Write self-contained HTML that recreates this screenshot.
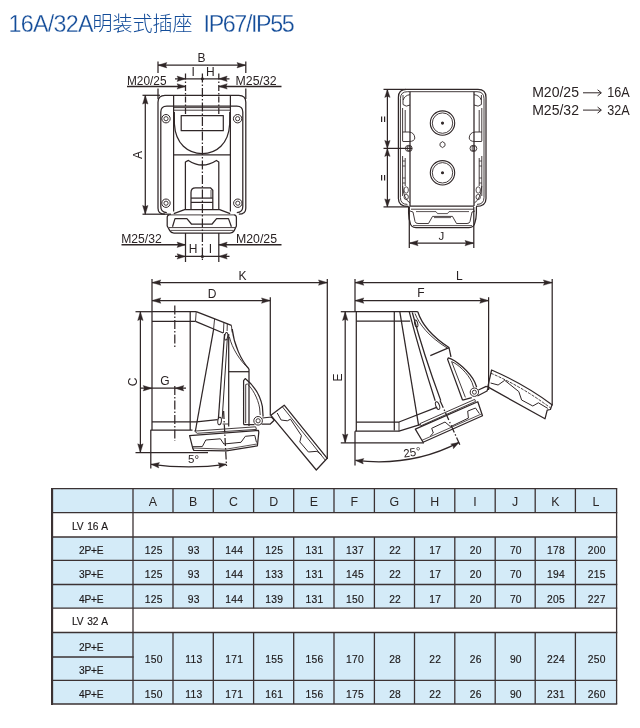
<!DOCTYPE html>
<html><head><meta charset="utf-8">
<title>16A/32A IP67/IP55</title>
<style>
html,body{margin:0;padding:0;background:#fff;}
body{width:640px;height:728px;position:relative;overflow:hidden;font-family:"Liberation Sans",sans-serif;}
#title{will-change:transform;position:absolute;left:0;top:0;width:640px;height:44px;color:#134c99;font-size:23.3px;line-height:1;white-space:nowrap;}
#title span{position:absolute;top:12.7px;-webkit-text-stroke:0.28px #fff;}
#t1{left:8.6px;letter-spacing:-0.75px;}
#t2{left:203.6px;letter-spacing:-1.4px;}
#cj{position:absolute;left:0;top:0;}
#dwg{position:absolute;left:0;top:0;will-change:transform;}
#dwg text{font-family:"Liberation Sans",sans-serif;}
#tbl{position:absolute;left:0;top:0;width:640px;height:728px;will-change:transform;}
.c{position:absolute;text-align:center;color:#1c1819;font-size:10.3px;overflow:hidden;-webkit-text-stroke:0.15px #1c1819;}
.c.n{letter-spacing:0.25px;padding-left:1.4px;box-sizing:border-box;}
.ln{position:absolute;background:#3b3233;}
.c.h{font-size:12.4px;color:#2a2627;-webkit-text-stroke:0;}
.c.l{font-size:10.2px;letter-spacing:-0.2px;padding-right:3px;box-sizing:border-box;}
.c.l.v{word-spacing:1.2px;padding-right:5.5px;}
#tb-left{position:absolute;left:51.3px;top:487.8px;width:1.8px;height:216.8px;background:#3b3233;}
</style></head>
<body>
<div id="title"><span id="t1">16A/32A</span><span id="t2">IP67/IP55</span></div>
<svg id="cj" width="640" height="44" viewBox="0 0 640 44" fill="#134c99">
<text x="92.6" y="31" font-size="20" fill="#134c99" style='font-family:"Liberation Sans","Noto Sans CJK SC",sans-serif;font-weight:300'>明装式插座</text>
</svg>
<svg id="dwg" width="640" height="728" viewBox="0 0 640 728" fill="none" stroke="#2f2627" stroke-linecap="butt" stroke-linejoin="round">
<g id="front">
<line x1="158.0" y1="61.5" x2="158.0" y2="73" stroke-width="1.25"/>
<line x1="158.0" y1="88.5" x2="158.0" y2="99" stroke-width="1.25"/>
<line x1="245.8" y1="61.5" x2="245.8" y2="73" stroke-width="1.25"/>
<line x1="245.8" y1="88.5" x2="245.8" y2="99" stroke-width="1.25"/>
<line x1="158.0" y1="65.2" x2="245.8" y2="65.2" stroke-width="1.25"/>
<polygon points="158.00,65.20 166.80,62.50 165.60,65.20 166.80,67.90" fill="#2f2627" stroke="#2f2627" stroke-width="0.4"/>
<polygon points="245.80,65.20 237.00,67.90 238.20,65.20 237.00,62.50" fill="#2f2627" stroke="#2f2627" stroke-width="0.4"/>
<text x="201.6" y="62.0" font-size="12" text-anchor="middle" fill="#2a2324" stroke="none">B</text>
<line x1="175" y1="78.8" x2="229.5" y2="78.8" stroke-width="1.25"/>
<polygon points="185.50,78.80 177.10,81.50 178.30,78.80 177.10,76.10" fill="#2f2627" stroke="#2f2627" stroke-width="0.4"/>
<polygon points="218.80,78.80 227.20,76.10 226.00,78.80 227.20,81.50" fill="#2f2627" stroke="#2f2627" stroke-width="0.4"/>
<circle cx="202.4" cy="78.8" r="0.9" stroke-width="1.25" fill="#2f2627"/>
<text x="193.2" y="76.3" font-size="12" text-anchor="middle" fill="#2a2324" stroke="none">I</text>
<text x="210.4" y="76.3" font-size="12" text-anchor="middle" fill="#2a2324" stroke="none">H</text>
<line x1="127" y1="86.4" x2="185.5" y2="86.4" stroke-width="1.45"/>
<polygon points="185.50,86.40 177.10,89.10 178.30,86.40 177.10,83.70" fill="#2f2627" stroke="#2f2627" stroke-width="0.4"/>
<line x1="218.8" y1="86.4" x2="281.5" y2="86.4" stroke-width="1.45"/>
<polygon points="218.80,86.40 227.20,83.70 226.00,86.40 227.20,89.10" fill="#2f2627" stroke="#2f2627" stroke-width="0.4"/>
<text x="127" y="85.4" font-size="12" text-anchor="start" fill="#2a2324" stroke="none" textLength="39.5" lengthAdjust="spacingAndGlyphs">M20/25</text>
<text x="235.6" y="85.4" font-size="12" text-anchor="start" fill="#2a2324" stroke="none" textLength="41" lengthAdjust="spacingAndGlyphs">M25/32</text>
<line x1="185.5" y1="73.5" x2="185.5" y2="115.6" stroke-width="1.25" stroke-dasharray="6 2 1.5 2"/>
<line x1="218.8" y1="73.5" x2="218.8" y2="115.6" stroke-width="1.25" stroke-dasharray="6 2 1.5 2"/>
<line x1="202.4" y1="73.5" x2="202.4" y2="262" stroke-width="1.25" stroke-dasharray="9 2 1.5 2"/>
<line x1="142.5" y1="95.3" x2="160.0" y2="95.3" stroke-width="1.25"/>
<line x1="142.5" y1="214.2" x2="171" y2="214.2" stroke-width="1.25"/>
<line x1="145.3" y1="95.3" x2="145.3" y2="214.2" stroke-width="1.25"/>
<polygon points="145.30,95.30 148.00,104.10 145.30,102.90 142.60,104.10" fill="#2f2627" stroke="#2f2627" stroke-width="0.4"/>
<polygon points="145.30,214.20 142.60,205.40 145.30,206.60 148.00,205.40" fill="#2f2627" stroke="#2f2627" stroke-width="0.4"/>
<text x="141.6" y="155" font-size="12" text-anchor="middle" fill="#2a2324" stroke="none" transform="rotate(-90 141.6 155)">A</text>
<path d="M158.0,208.2 L158.0,102.3 Q158.0,95.3 165.0,95.3 L238.8,95.3 Q245.8,95.3 245.8,102.3 L245.8,208.2 Q245.8,214.2 238.8,214.2 M158.0,208.2 Q158.0,214.2 165.0,214.2" stroke-width="1.25" fill="none"/>
<path d="M166.8,212.6 Q160.8,212.6 160.8,206.6 L160.8,112.0 Q160.8,106.0 166.8,106.0 L236.8,106.0 Q242.8,106.0 242.8,112.0 L242.8,206.6 Q242.8,212.6 236.8,212.6" stroke-width="1.25" fill="none"/>
<line x1="173.6" y1="95.3" x2="173.6" y2="211.5" stroke-width="1.25"/>
<line x1="230.4" y1="95.3" x2="230.4" y2="211.5" stroke-width="1.25"/>
<line x1="173.6" y1="107.6" x2="230.4" y2="107.6" stroke-width="0.9"/>
<line x1="173.6" y1="110.2" x2="230.4" y2="110.2" stroke-width="0.9"/>
<path d="M174.3,112 L174.4,124 C175.5,144 188,153.5 202.3,153.5 C216.5,153.5 228.6,144 229.7,124 L229.8,112" stroke-width="1.25" fill="none"/>
<line x1="173.6" y1="154.9" x2="230.4" y2="154.9" stroke-width="1.25"/>
<rect x="181.2" y="115.6" width="42.1" height="15.1" stroke-width="1.2"/>
<circle cx="166.0" cy="118.7" r="4.2" stroke-width="1.0" fill="none"/>
<circle cx="166.0" cy="118.7" r="2.1" stroke-width="0.9" fill="none"/>
<circle cx="237.6" cy="118.7" r="4.2" stroke-width="1.0" fill="none"/>
<circle cx="237.6" cy="118.7" r="2.1" stroke-width="0.9" fill="none"/>
<circle cx="166.0" cy="203.2" r="4.2" stroke-width="1.0" fill="none"/>
<circle cx="166.0" cy="203.2" r="2.1" stroke-width="0.9" fill="none"/>
<circle cx="237.8" cy="203.2" r="4.2" stroke-width="1.0" fill="none"/>
<circle cx="237.8" cy="203.2" r="2.1" stroke-width="0.9" fill="none"/>
<path d="M185.4,210 L185.4,162 L188.4,160.4 Q202.3,169.6 216.4,160.4 L218.8,162 L218.8,210" stroke-width="1.25" fill="none"/>
<path d="M191,209 L191,192.5 Q191,187.8 195.5,187.8 L210.4,187.8 L212.8,190.2 L212.8,209" stroke-width="1.25" fill="none"/>
<line x1="211" y1="190" x2="211" y2="198" stroke-width="0.8"/>
<line x1="191" y1="198.1" x2="212.8" y2="198.1" stroke-width="1.25"/>
<line x1="191" y1="202.4" x2="212.8" y2="202.4" stroke-width="1.25"/>
<path d="M173.8,213.6 L184.6,209.6 L219.6,209.6 L230.2,213.6" stroke-width="1.25" fill="none"/>
<path d="M169.5,214.8 Q167.2,215 167.2,217.5 L167.2,226 L169.8,230.6 Q171,233 174,233 L230,233 Q233,233 234.2,230.6 L236.4,226 L236.4,217.5 Q236.4,215 234,214.8" stroke-width="1.25" fill="none"/>
<line x1="169.5" y1="214.9" x2="234" y2="214.9" stroke-width="0.9"/>
<path d="M172.5,226.7 L175,218.6 L186.9,218.6 L191.4,224 L212.1,224 L216.6,218.6 L228.5,218.6 L231.4,226.7" stroke-width="1.25" fill="none"/>
<line x1="169" y1="227.6" x2="235" y2="227.6" stroke-width="0.9"/>
<line x1="170.5" y1="230.4" x2="233.5" y2="230.4" stroke-width="0.8"/>
<line x1="185.5" y1="233" x2="185.5" y2="262" stroke-width="1.25"/>
<line x1="218.8" y1="233" x2="218.8" y2="262" stroke-width="1.25"/>
<line x1="121.5" y1="244.8" x2="185.5" y2="244.8" stroke-width="1.45"/>
<polygon points="185.50,244.80 177.10,247.50 178.30,244.80 177.10,242.10" fill="#2f2627" stroke="#2f2627" stroke-width="0.4"/>
<line x1="218.8" y1="244.8" x2="281.5" y2="244.8" stroke-width="1.45"/>
<polygon points="218.80,244.80 227.20,242.10 226.00,244.80 227.20,247.50" fill="#2f2627" stroke="#2f2627" stroke-width="0.4"/>
<text x="121.2" y="243.2" font-size="12" text-anchor="start" fill="#2a2324" stroke="none" textLength="40.5" lengthAdjust="spacingAndGlyphs">M25/32</text>
<text x="236" y="243.2" font-size="12" text-anchor="start" fill="#2a2324" stroke="none" textLength="41" lengthAdjust="spacingAndGlyphs">M20/25</text>
<line x1="175" y1="256.4" x2="229.5" y2="256.4" stroke-width="1.25"/>
<polygon points="185.50,256.40 177.10,259.10 178.30,256.40 177.10,253.70" fill="#2f2627" stroke="#2f2627" stroke-width="0.4"/>
<polygon points="218.80,256.40 227.20,253.70 226.00,256.40 227.20,259.10" fill="#2f2627" stroke="#2f2627" stroke-width="0.4"/>
<circle cx="202.4" cy="256.4" r="0.9" stroke-width="1.25" fill="#2f2627"/>
<text x="193" y="253.4" font-size="12" text-anchor="middle" fill="#2a2324" stroke="none">H</text>
<text x="210.3" y="253.4" font-size="12" text-anchor="middle" fill="#2a2324" stroke="none">I</text>
</g>
<g id="rear">
<line x1="383.5" y1="89.4" x2="406" y2="89.4" stroke-width="1.25"/>
<line x1="383.5" y1="148.4" x2="412" y2="148.4" stroke-width="1.25"/>
<line x1="383.5" y1="206.9" x2="410" y2="206.9" stroke-width="1.25"/>
<line x1="387.4" y1="89.4" x2="387.4" y2="206.9" stroke-width="1.25"/>
<polygon points="387.40,89.40 390.10,97.40 387.40,96.20 384.70,97.40" fill="#2f2627" stroke="#2f2627" stroke-width="0.4"/>
<polygon points="387.40,148.40 384.70,140.40 387.40,141.60 390.10,140.40" fill="#2f2627" stroke="#2f2627" stroke-width="0.4"/>
<polygon points="387.40,148.40 390.10,156.40 387.40,155.20 384.70,156.40" fill="#2f2627" stroke="#2f2627" stroke-width="0.4"/>
<polygon points="387.40,206.90 384.70,198.90 387.40,200.10 390.10,198.90" fill="#2f2627" stroke="#2f2627" stroke-width="0.4"/>
<text x="386.8" y="119.4" font-size="11" text-anchor="middle" fill="#2a2324" stroke="none" transform="rotate(-90 386.8 119.4)" font-weight="bold">=</text>
<text x="386.8" y="177.8" font-size="11" text-anchor="middle" fill="#2a2324" stroke="none" transform="rotate(-90 386.8 177.8)" font-weight="bold">=</text>
<path d="M398.4,198.4 L398.4,97.4 Q398.4,89.4 406.4,89.4 L478.0,89.4 Q486.0,89.4 486.0,97.4 L486.0,198.4 Q486.0,206.4 476.0,206.4 M398.4,198.4 Q398.4,206.4 408.4,206.4" stroke-width="1.25" fill="none"/>
<path d="M400.4,197.4 L400.4,98.7 Q400.4,91.7 407.4,91.7 L477.0,91.7 Q484.0,91.7 484.0,98.7 L484.0,197.4 Q484.0,204.4 477.0,204.4 M400.4,197.4 Q400.4,204.4 407.4,204.4" stroke-width="0.9" fill="none"/>
<line x1="410.0" y1="91.7" x2="410.0" y2="206" stroke-width="1.25"/>
<line x1="474.0" y1="91.7" x2="474.0" y2="206" stroke-width="1.25"/>
<line x1="410.0" y1="206.2" x2="474.0" y2="206.2" stroke-width="1.25"/>
<path d="M403,95 L403,104.5 Q406,107.5 410,105 M403.2,100 Q404.5,95.5 410,94.6" stroke-width="0.9" fill="none"/>
<path d="M481.4,95 L481.4,104.5 Q478.4,107.5 474,105 M481.2,100 Q479.9,95.5 474,94.6" stroke-width="0.9" fill="none"/>
<line x1="402.6" y1="108" x2="402.6" y2="141" stroke-width="0.9"/>
<line x1="405.2" y1="110" x2="405.2" y2="132" stroke-width="0.9"/>
<line x1="402.6" y1="156" x2="402.6" y2="196" stroke-width="0.9"/>
<line x1="405.2" y1="158" x2="405.2" y2="186" stroke-width="0.9"/>
<line x1="402.6" y1="161" x2="405.2" y2="161" stroke-width="0.8"/>
<line x1="402.6" y1="166" x2="405.2" y2="166" stroke-width="0.8"/>
<line x1="402.6" y1="178" x2="405.2" y2="178" stroke-width="0.8"/>
<line x1="402.6" y1="183" x2="405.2" y2="183" stroke-width="0.8"/>
<line x1="481.8" y1="108" x2="481.8" y2="141" stroke-width="0.9"/>
<line x1="479.2" y1="110" x2="479.2" y2="132" stroke-width="0.9"/>
<line x1="481.8" y1="156" x2="481.8" y2="196" stroke-width="0.9"/>
<line x1="479.2" y1="158" x2="479.2" y2="186" stroke-width="0.9"/>
<line x1="481.8" y1="161" x2="479.2" y2="161" stroke-width="0.8"/>
<line x1="481.8" y1="166" x2="479.2" y2="166" stroke-width="0.8"/>
<line x1="481.8" y1="178" x2="479.2" y2="178" stroke-width="0.8"/>
<line x1="481.8" y1="183" x2="479.2" y2="183" stroke-width="0.8"/>
<path d="M402.6,132 L409,132 Q414.5,132.5 414.8,138 Q414.5,141.5 409,141.5 L402.6,141.5" stroke-width="0.9" fill="none"/>
<path d="M481.8,132 L475,132 Q469.5,132.5 469.2,138 Q469.5,141.5 475,141.5 L481.8,141.5" stroke-width="0.9" fill="none"/>
<ellipse cx="408.8" cy="148.4" rx="3.4" ry="3.1" stroke-width="0.9"/>
<rect x="407.6" y="146.2" width="2.4" height="4.4" stroke-width="0.8"/>
<ellipse cx="473.4" cy="148.4" rx="3.4" ry="3.1" stroke-width="0.9"/>
<rect x="472.2" y="146.2" width="2.4" height="4.4" stroke-width="0.8"/>
<path d="M402.6,186 Q403.6,199 410.0,203" stroke-width="0.9" fill="none"/>
<ellipse cx="406.20000000000005" cy="190" rx="2.2" ry="3.2" stroke-width="0.8"/>
<ellipse cx="406.20000000000005" cy="197" rx="2.2" ry="2.6" stroke-width="0.8"/>
<path d="M481.8,186 Q480.8,199 474.40000000000003,203" stroke-width="0.9" fill="none"/>
<ellipse cx="478.2" cy="190" rx="2.2" ry="3.2" stroke-width="0.8"/>
<ellipse cx="478.2" cy="197" rx="2.2" ry="2.6" stroke-width="0.8"/>
<circle cx="442.5" cy="123.1" r="12.2" stroke-width="1.1" fill="none"/>
<circle cx="442.5" cy="123.1" r="10.2" stroke-width="0.9" fill="none"/>
<circle cx="442.5" cy="123.1" r="0.9" stroke-width="1.25" fill="#2f2627"/>
<circle cx="442.5" cy="172.8" r="12.2" stroke-width="1.1" fill="none"/>
<circle cx="442.5" cy="172.8" r="10.2" stroke-width="0.9" fill="none"/>
<circle cx="442.5" cy="172.8" r="0.9" stroke-width="1.25" fill="#2f2627"/>
<path d="M442.5,141.6 L445,143.4 L445,145.8 L442.5,147.6 L440,145.8 L440,143.4 Z" stroke-width="0.9"/>
<path d="M408.6,207 L408.6,213 Q408.8,219 410.2,223 Q411,227.6 416,227.6 L469,227.6 Q474,227.6 474.8,223 Q476.2,219 476.4,213 L476.4,207" stroke-width="1.25" fill="none"/>
<path d="M410,211 L413,212 L415,221.5 Q415.5,223.5 418,223.5 L428.5,223.5 L432.5,216.4 L452.5,216.4 L456.5,223.5 L467,223.5 Q469.5,223.5 470,221.5 L472,212 L475,211" stroke-width="0.9" fill="none"/>
<line x1="411" y1="209.2" x2="474" y2="209.2" stroke-width="0.9"/>
<path d="M416,211.6 L436,211.6 L437.5,213.6 L447.5,213.6 L449,211.6 L469,211.6" stroke-width="0.8" fill="none"/>
<line x1="434" y1="217.6" x2="451" y2="217.6" stroke-width="0.8"/>
<line x1="413" y1="225.6" x2="472" y2="225.6" stroke-width="0.8"/>
<line x1="409.3" y1="207" x2="409.3" y2="248" stroke-width="1.25"/>
<line x1="473.8" y1="207" x2="473.8" y2="248" stroke-width="1.25"/>
<line x1="409.3" y1="243.1" x2="473.8" y2="243.1" stroke-width="1.25"/>
<polygon points="409.30,243.10 418.10,240.40 416.90,243.10 418.10,245.80" fill="#2f2627" stroke="#2f2627" stroke-width="0.4"/>
<polygon points="473.80,243.10 465.00,245.80 466.20,243.10 465.00,240.40" fill="#2f2627" stroke="#2f2627" stroke-width="0.4"/>
<text x="441.4" y="240" font-size="11.5" text-anchor="middle" fill="#2a2324" stroke="none">J</text>
<text x="532.2" y="97.3" font-size="13.8" text-anchor="start" fill="#2a2324" stroke="none" textLength="46.8" lengthAdjust="spacingAndGlyphs">M20/25</text>
<text x="532.2" y="114.6" font-size="13.8" text-anchor="start" fill="#2a2324" stroke="none" textLength="46.8" lengthAdjust="spacingAndGlyphs">M25/32</text>
<line x1="583" y1="92.8" x2="601" y2="92.8" stroke-width="1.0"/>
<path d="M597.6,89.8 L601.4,92.8 L597.6,95.8" stroke-width="1.0" fill="none"/>
<line x1="583" y1="110.1" x2="601" y2="110.1" stroke-width="1.0"/>
<path d="M597.6,107.1 L601.4,110.1 L597.6,113.1" stroke-width="1.0" fill="none"/>
<text x="607.2" y="97.3" font-size="13.8" text-anchor="start" fill="#2a2324" stroke="none" textLength="22.5" lengthAdjust="spacingAndGlyphs">16A</text>
<text x="607.2" y="114.6" font-size="13.8" text-anchor="start" fill="#2a2324" stroke="none" textLength="22.5" lengthAdjust="spacingAndGlyphs">32A</text>
</g>
<g id="side1">
<line x1="152" y1="279" x2="152" y2="311.7" stroke-width="1.25"/>
<line x1="152" y1="282.6" x2="327.3" y2="282.6" stroke-width="1.25"/>
<polygon points="152.00,282.60 160.80,279.90 159.60,282.60 160.80,285.30" fill="#2f2627" stroke="#2f2627" stroke-width="0.4"/>
<polygon points="327.30,282.60 318.50,285.30 319.70,282.60 318.50,279.90" fill="#2f2627" stroke="#2f2627" stroke-width="0.4"/>
<line x1="327.3" y1="279" x2="327.3" y2="459" stroke-width="1.25"/>
<text x="242.6" y="279.6" font-size="12" text-anchor="middle" fill="#2a2324" stroke="none">K</text>
<line x1="152" y1="300.6" x2="270.3" y2="300.6" stroke-width="1.25"/>
<polygon points="152.00,300.60 160.80,297.90 159.60,300.60 160.80,303.30" fill="#2f2627" stroke="#2f2627" stroke-width="0.4"/>
<polygon points="270.30,300.60 261.50,303.30 262.70,300.60 261.50,297.90" fill="#2f2627" stroke="#2f2627" stroke-width="0.4"/>
<line x1="270.3" y1="297.2" x2="270.3" y2="415.5" stroke-width="1.25"/>
<text x="212" y="297.6" font-size="12" text-anchor="middle" fill="#2a2324" stroke="none">D</text>
<line x1="135.5" y1="311.7" x2="152" y2="311.7" stroke-width="1.25"/>
<line x1="135.5" y1="452.6" x2="208" y2="452.6" stroke-width="1.25"/>
<line x1="140.4" y1="311.7" x2="140.4" y2="452.6" stroke-width="1.25"/>
<polygon points="140.40,311.70 143.10,320.50 140.40,319.30 137.70,320.50" fill="#2f2627" stroke="#2f2627" stroke-width="0.4"/>
<polygon points="140.40,452.60 137.70,443.80 140.40,445.00 143.10,443.80" fill="#2f2627" stroke="#2f2627" stroke-width="0.4"/>
<text x="137.2" y="382" font-size="12" text-anchor="middle" fill="#2a2324" stroke="none" transform="rotate(-90 137.2 382)">C</text>
<line x1="141" y1="388.2" x2="186" y2="388.2" stroke-width="1.25"/>
<polygon points="152.00,388.20 143.20,390.90 144.40,388.20 143.20,385.50" fill="#2f2627" stroke="#2f2627" stroke-width="0.4"/>
<polygon points="175.00,388.20 183.80,385.50 182.60,388.20 183.80,390.90" fill="#2f2627" stroke="#2f2627" stroke-width="0.4"/>
<text x="165" y="385.3" font-size="12" text-anchor="middle" fill="#2a2324" stroke="none">G</text>
<line x1="174.8" y1="305.5" x2="174.8" y2="348.5" stroke-width="1.25" stroke-dasharray="9 2 1.5 2"/>
<line x1="174.8" y1="386" x2="174.8" y2="441" stroke-width="1.25" stroke-dasharray="9 2 1.5 2"/>
<line x1="152" y1="311.7" x2="196.2" y2="311.7" stroke-width="1.25"/>
<line x1="152" y1="321.3" x2="195.5" y2="321.3" stroke-width="1.25"/>
<line x1="196.2" y1="311.7" x2="195.5" y2="321.3" stroke-width="0.9"/>
<line x1="152" y1="311.7" x2="152" y2="430" stroke-width="1.25"/>
<line x1="190.2" y1="311.7" x2="190.2" y2="430" stroke-width="1.25"/>
<path d="M152,421.8 L196.5,421.8 L217.7,419.6" stroke-width="1.25" fill="none"/>
<path d="M192.5,430 L150.8,430 L150.8,468.5" stroke-width="1.25" fill="none"/>
<line x1="196.2" y1="311.7" x2="231.4" y2="325.3" stroke-width="1.25"/>
<line x1="195.5" y1="321.3" x2="223.2" y2="333" stroke-width="1.25"/>
<line x1="214.6" y1="318.8" x2="213.6" y2="328.8" stroke-width="0.9"/>
<line x1="223.9" y1="322.5" x2="223.4" y2="333" stroke-width="0.9"/>
<path d="M227.3,323.8 L227.1,331 M231.4,325.3 L232.2,332.5" stroke-width="0.9" fill="none"/>
<line x1="213.7" y1="328.8" x2="195.4" y2="431" stroke-width="1.25"/>
<line x1="224.5" y1="334" x2="218.4" y2="418.7" stroke-width="1.25"/>
<line x1="227.3" y1="338.6" x2="222.2" y2="418.7" stroke-width="1.0"/>
<line x1="228.7" y1="334" x2="228.7" y2="426.5" stroke-width="1.25"/>
<ellipse cx="226.2" cy="336.2" rx="1.5" ry="3.8" transform="rotate(8 226.2 336.2)" stroke-width="1.0"/>
<path d="M232.2,329 C234,345 241,360 249,369" stroke-width="1.25" fill="none"/>
<path d="M229.4,337 C232,348 240,361 249,369" stroke-width="0.9" fill="none"/>
<line x1="249" y1="369" x2="249" y2="426" stroke-width="1.25"/>
<line x1="228.7" y1="371.7" x2="249" y2="371.7" stroke-width="1.25"/>
<path d="M243.6,424.6 L243.6,380.6 L245.2,378.6 C252,384 260,394 262.4,406.7 L263.1,416.6" stroke-width="1.25" fill="none"/>
<path d="M245.7,423 L245.7,384.5 L247.4,384 C252,388 258,398 259.6,408 L260.2,415" stroke-width="0.9" fill="none"/>
<circle cx="258.1" cy="420.8" r="4.3" stroke-width="1.0" fill="none"/>
<circle cx="258.1" cy="420.8" r="2.1" stroke-width="0.9" fill="none"/>
<path d="M243.6,424.6 L254.5,424.6 M262.4,418 L271.5,417 M261.5,424 L270.3,424 L274.2,420.2 L271.5,417" stroke-width="1.25" fill="none"/>
<ellipse cx="219.6" cy="421" rx="1.8" ry="3.8" transform="rotate(5 219.6 421)" stroke-width="1.0"/>
<line x1="222.6" y1="424" x2="228.7" y2="424" stroke-width="0.9"/>
<path d="M194.6,431.1 L255.6,426.8 L256.5,429.4 L197.2,433.3 Z" stroke-width="0.9" fill="none"/>
<path d="M189.6,435.6 L258.4,430.4 L258.8,432.2 L257.4,445.8 L226.4,450.9 L193.8,450.4 L192.8,448.4 Z" stroke-width="1.25" fill="none"/>
<path d="M192.9,446.7 L202.3,446.6 L205.8,440 L220.4,438.8 L223.8,444 L241,442.3 L245.3,436.3 L254.8,435.4 L256.5,442.5" stroke-width="1.0" fill="none"/>
<path d="M192.6,448 L226,449.2 L257,444" stroke-width="0.8" fill="none"/>
<line x1="223.6" y1="411" x2="226.5" y2="466" stroke-width="1.25" stroke-dasharray="8 2 1.5 2"/>
<path d="M151,464.3 Q189,469.5 226.4,464.3" stroke-width="1.25" fill="none"/>
<polygon points="151.20,464.30 159.47,462.60 157.95,465.13 158.81,467.95" fill="#2f2627" stroke="#2f2627" stroke-width="0.4"/>
<polygon points="226.40,464.30 218.85,468.09 219.67,465.25 218.10,462.74" fill="#2f2627" stroke="#2f2627" stroke-width="0.4"/>
<text x="193.6" y="462.6" font-size="11.5" text-anchor="middle" fill="#2a2324" stroke="none">5&#176;</text>
<path d="M270.9,415.3 L284.2,405.2 L327.2,458.3 L316.3,470 Z" stroke-width="1.25" fill="none"/>
<line x1="282.4" y1="406.8" x2="325.3" y2="460.2" stroke-width="0.9"/>
<path d="M277.2,413 L281.1,420 L287.3,420.8 L290.5,419.2 L301.4,435.6 L299.8,441.9 L308.4,452 L317,451.3 L321.7,455.2" stroke-width="1.0" fill="none"/>
</g>
<g id="side2">
<line x1="355" y1="279" x2="355" y2="311.7" stroke-width="1.25"/>
<line x1="355" y1="282.6" x2="552.2" y2="282.6" stroke-width="1.25"/>
<polygon points="355.00,282.60 363.80,279.90 362.60,282.60 363.80,285.30" fill="#2f2627" stroke="#2f2627" stroke-width="0.4"/>
<polygon points="552.20,282.60 543.40,285.30 544.60,282.60 543.40,279.90" fill="#2f2627" stroke="#2f2627" stroke-width="0.4"/>
<line x1="552.2" y1="279" x2="552.2" y2="405.6" stroke-width="1.25"/>
<text x="459.4" y="279.6" font-size="12" text-anchor="middle" fill="#2a2324" stroke="none">L</text>
<line x1="355" y1="300.6" x2="488.6" y2="300.6" stroke-width="1.25"/>
<polygon points="355.00,300.60 363.80,297.90 362.60,300.60 363.80,303.30" fill="#2f2627" stroke="#2f2627" stroke-width="0.4"/>
<polygon points="488.60,300.60 479.80,303.30 481.00,300.60 479.80,297.90" fill="#2f2627" stroke="#2f2627" stroke-width="0.4"/>
<line x1="488.6" y1="297.2" x2="488.6" y2="390" stroke-width="1.25"/>
<text x="420.8" y="297.4" font-size="12" text-anchor="middle" fill="#2a2324" stroke="none">F</text>
<line x1="340.8" y1="311.7" x2="355" y2="311.7" stroke-width="1.25"/>
<line x1="340.8" y1="442.8" x2="424" y2="442.8" stroke-width="1.25"/>
<line x1="345.2" y1="311.7" x2="345.2" y2="442.8" stroke-width="1.25"/>
<polygon points="345.20,311.70 347.90,320.50 345.20,319.30 342.50,320.50" fill="#2f2627" stroke="#2f2627" stroke-width="0.4"/>
<polygon points="345.20,442.80 342.50,434.00 345.20,435.20 347.90,434.00" fill="#2f2627" stroke="#2f2627" stroke-width="0.4"/>
<text x="342" y="377.5" font-size="12" text-anchor="middle" fill="#2a2324" stroke="none" transform="rotate(-90 342 377.5)">E</text>
<line x1="355" y1="311.7" x2="417.8" y2="311.7" stroke-width="1.25"/>
<line x1="356.3" y1="321.2" x2="410.2" y2="321.2" stroke-width="1.25"/>
<line x1="356.3" y1="311.7" x2="356.3" y2="431.2" stroke-width="1.25"/>
<line x1="394.3" y1="311.7" x2="394.3" y2="430.5" stroke-width="1.25"/>
<path d="M356.3,422 L399,422 L437.2,407.2" stroke-width="1.25" fill="none"/>
<path d="M355,431.2 L399,431.2 L420,424.6" stroke-width="1.25" fill="none"/>
<line x1="399" y1="422" x2="399" y2="431.2" stroke-width="0.9"/>
<line x1="355" y1="431.2" x2="355" y2="465.5" stroke-width="1.25"/>
<line x1="399.8" y1="311.7" x2="418.6" y2="425.4" stroke-width="1.25"/>
<path d="M409.2,311.7 Q419.5,352 435.2,400.8" stroke-width="1.25" fill="none"/>
<path d="M412.3,312.5 Q423.5,354 440.8,400.6" stroke-width="1.25" fill="none"/>
<ellipse cx="416.2" cy="323.6" rx="1.5" ry="3.6" transform="rotate(-14 416.2 323.6)" stroke-width="1.0"/>
<ellipse cx="437.6" cy="405.6" rx="1.8" ry="4" transform="rotate(-20 437.6 405.6)" stroke-width="1.0"/>
<path d="M417.8,311.7 C421,322 430,335 449,347.6" stroke-width="1.25" fill="none"/>
<path d="M415,313.5 C419,324 429,337 447.5,348.2" stroke-width="0.9" fill="none"/>
<path d="M430.3,355.6 L449,347.6 L451,357" stroke-width="1.25" fill="none"/>
<path d="M462.6,400.2 L447.6,359.4 L448.4,357.8 C456,360 470,372 474.8,382.2 L476.7,387.2" stroke-width="1.25" fill="none"/>
<path d="M465.4,397.4 L451.6,361.6 C458,364 468,373.5 472,382.4 L473.6,387.4" stroke-width="0.9" fill="none"/>
<circle cx="474.4" cy="392.2" r="4.2" stroke-width="1.0" fill="none"/>
<circle cx="474.4" cy="392.2" r="2.0" stroke-width="0.9" fill="none"/>
<path d="M462.6,400.2 L471.8,397.6 M478.4,390 L486.2,386.4 M477.4,396 L487,391 L488.4,387 L486.2,386.4" stroke-width="1.25" fill="none"/>
<path d="M420,423.6 L474.7,399.4 L475.6,401.4 L420.9,425.8 Z" stroke-width="0.9" fill="none"/>
<path d="M415.3,429.1 L477.8,401.7 L482.5,415.8 L423.1,442.3 Z" stroke-width="1.25" fill="none"/>
<path d="M430.2,436.1 L433.3,433 L431.7,428.3 L445,422 L450.5,426.7 L468.4,418.1 L467.7,411.1 L475.5,408 L479.4,413.6" stroke-width="1.0" fill="none"/>
<path d="M421.8,440.4 L481.8,413.8" stroke-width="0.8" fill="none"/>
<line x1="440" y1="400.5" x2="460.4" y2="446" stroke-width="1.25" stroke-dasharray="8 2 1.5 2"/>
<path d="M355.5,460.4 Q412,467 459,442.4" stroke-width="1.25" fill="none"/>
<polygon points="355.60,460.40 363.84,458.55 362.36,461.11 363.27,463.92" fill="#2f2627" stroke="#2f2627" stroke-width="0.4"/>
<polygon points="459.00,442.40 453.42,448.74 453.11,445.80 450.72,444.06" fill="#2f2627" stroke="#2f2627" stroke-width="0.4"/>
<text x="412.6" y="456.2" font-size="11.5" text-anchor="middle" fill="#2a2324" stroke="none" transform="rotate(-8 412.6 456.2)">25&#176;</text>
<path d="M491.6,370 Q524,384 552,404.7 L550.4,409.5 L547.2,410.2 L545,418.8 L487.8,386.9 Z" stroke-width="1.25" fill="none"/>
<path d="M490.9,373.2 Q522,386.5 550.6,408" stroke-width="0.9" fill="none" stroke-dasharray="3 1.2"/>
<path d="M490.6,383 L498.1,385 L504.7,380.3 L518.8,391.6 L521.6,400 L532.8,406 L538.4,402.8 L547.8,408.4" stroke-width="1.0" fill="none"/>
</g>
</svg>
<div id="tbl">
<div class="c n" style="left:52.5px;top:488.6px;width:80.5px;height:24.0px;line-height:29.4px;background:#d4ebf8"></div>
<div class="c h" style="left:133.0px;top:488.6px;width:40.0px;height:24.0px;line-height:27.2px;background:#d4ebf8">A</div>
<div class="c h" style="left:173.0px;top:488.6px;width:40.3px;height:24.0px;line-height:27.2px;background:#d4ebf8">B</div>
<div class="c h" style="left:213.3px;top:488.6px;width:40.3px;height:24.0px;line-height:27.2px;background:#d4ebf8">C</div>
<div class="c h" style="left:253.6px;top:488.6px;width:40.1px;height:24.0px;line-height:27.2px;background:#d4ebf8">D</div>
<div class="c h" style="left:293.7px;top:488.6px;width:40.3px;height:24.0px;line-height:27.2px;background:#d4ebf8">E</div>
<div class="c h" style="left:334.0px;top:488.6px;width:40.4px;height:24.0px;line-height:27.2px;background:#d4ebf8">F</div>
<div class="c h" style="left:374.4px;top:488.6px;width:40.1px;height:24.0px;line-height:27.2px;background:#d4ebf8">G</div>
<div class="c h" style="left:414.5px;top:488.6px;width:40.3px;height:24.0px;line-height:27.2px;background:#d4ebf8">H</div>
<div class="c h" style="left:454.8px;top:488.6px;width:40.4px;height:24.0px;line-height:27.2px;background:#d4ebf8">I</div>
<div class="c h" style="left:495.2px;top:488.6px;width:40.0px;height:24.0px;line-height:27.2px;background:#d4ebf8">J</div>
<div class="c h" style="left:535.2px;top:488.6px;width:40.2px;height:24.0px;line-height:27.2px;background:#d4ebf8">K</div>
<div class="c h" style="left:575.4px;top:488.6px;width:41.2px;height:24.0px;line-height:27.2px;background:#d4ebf8">L</div>
<div class="c l v" style="left:52.5px;top:512.6px;width:80.5px;height:24.4px;line-height:28.2px;background:#fff">LV 16 A</div>
<div class="c n" style="left:133.0px;top:512.6px;width:483.6px;height:24.4px;line-height:29.8px;background:#fff"></div>
<div class="c l" style="left:52.5px;top:537.0px;width:80.5px;height:23.4px;line-height:28.8px;background:#d4ebf8">2P+E</div>
<div class="c n" style="left:133.0px;top:537.0px;width:40.0px;height:23.4px;line-height:28.8px;background:#d4ebf8">125</div>
<div class="c n" style="left:173.0px;top:537.0px;width:40.3px;height:23.4px;line-height:28.8px;background:#d4ebf8">93</div>
<div class="c n" style="left:213.3px;top:537.0px;width:40.3px;height:23.4px;line-height:28.8px;background:#d4ebf8">144</div>
<div class="c n" style="left:253.6px;top:537.0px;width:40.1px;height:23.4px;line-height:28.8px;background:#d4ebf8">125</div>
<div class="c n" style="left:293.7px;top:537.0px;width:40.3px;height:23.4px;line-height:28.8px;background:#d4ebf8">131</div>
<div class="c n" style="left:334.0px;top:537.0px;width:40.4px;height:23.4px;line-height:28.8px;background:#d4ebf8">137</div>
<div class="c n" style="left:374.4px;top:537.0px;width:40.1px;height:23.4px;line-height:28.8px;background:#d4ebf8">22</div>
<div class="c n" style="left:414.5px;top:537.0px;width:40.3px;height:23.4px;line-height:28.8px;background:#d4ebf8">17</div>
<div class="c n" style="left:454.8px;top:537.0px;width:40.4px;height:23.4px;line-height:28.8px;background:#d4ebf8">20</div>
<div class="c n" style="left:495.2px;top:537.0px;width:40.0px;height:23.4px;line-height:28.8px;background:#d4ebf8">70</div>
<div class="c n" style="left:535.2px;top:537.0px;width:40.2px;height:23.4px;line-height:28.8px;background:#d4ebf8">178</div>
<div class="c n" style="left:575.4px;top:537.0px;width:41.2px;height:23.4px;line-height:28.8px;background:#d4ebf8">200</div>
<div class="c l" style="left:52.5px;top:560.4px;width:80.5px;height:24.1px;line-height:29.5px;background:#d4ebf8">3P+E</div>
<div class="c n" style="left:133.0px;top:560.4px;width:40.0px;height:24.1px;line-height:29.5px;background:#d4ebf8">125</div>
<div class="c n" style="left:173.0px;top:560.4px;width:40.3px;height:24.1px;line-height:29.5px;background:#d4ebf8">93</div>
<div class="c n" style="left:213.3px;top:560.4px;width:40.3px;height:24.1px;line-height:29.5px;background:#d4ebf8">144</div>
<div class="c n" style="left:253.6px;top:560.4px;width:40.1px;height:24.1px;line-height:29.5px;background:#d4ebf8">133</div>
<div class="c n" style="left:293.7px;top:560.4px;width:40.3px;height:24.1px;line-height:29.5px;background:#d4ebf8">131</div>
<div class="c n" style="left:334.0px;top:560.4px;width:40.4px;height:24.1px;line-height:29.5px;background:#d4ebf8">145</div>
<div class="c n" style="left:374.4px;top:560.4px;width:40.1px;height:24.1px;line-height:29.5px;background:#d4ebf8">22</div>
<div class="c n" style="left:414.5px;top:560.4px;width:40.3px;height:24.1px;line-height:29.5px;background:#d4ebf8">17</div>
<div class="c n" style="left:454.8px;top:560.4px;width:40.4px;height:24.1px;line-height:29.5px;background:#d4ebf8">20</div>
<div class="c n" style="left:495.2px;top:560.4px;width:40.0px;height:24.1px;line-height:29.5px;background:#d4ebf8">70</div>
<div class="c n" style="left:535.2px;top:560.4px;width:40.2px;height:24.1px;line-height:29.5px;background:#d4ebf8">194</div>
<div class="c n" style="left:575.4px;top:560.4px;width:41.2px;height:24.1px;line-height:29.5px;background:#d4ebf8">215</div>
<div class="c l" style="left:52.5px;top:584.5px;width:80.5px;height:23.7px;line-height:29.1px;background:#d4ebf8">4P+E</div>
<div class="c n" style="left:133.0px;top:584.5px;width:40.0px;height:23.7px;line-height:29.1px;background:#d4ebf8">125</div>
<div class="c n" style="left:173.0px;top:584.5px;width:40.3px;height:23.7px;line-height:29.1px;background:#d4ebf8">93</div>
<div class="c n" style="left:213.3px;top:584.5px;width:40.3px;height:23.7px;line-height:29.1px;background:#d4ebf8">144</div>
<div class="c n" style="left:253.6px;top:584.5px;width:40.1px;height:23.7px;line-height:29.1px;background:#d4ebf8">139</div>
<div class="c n" style="left:293.7px;top:584.5px;width:40.3px;height:23.7px;line-height:29.1px;background:#d4ebf8">131</div>
<div class="c n" style="left:334.0px;top:584.5px;width:40.4px;height:23.7px;line-height:29.1px;background:#d4ebf8">150</div>
<div class="c n" style="left:374.4px;top:584.5px;width:40.1px;height:23.7px;line-height:29.1px;background:#d4ebf8">22</div>
<div class="c n" style="left:414.5px;top:584.5px;width:40.3px;height:23.7px;line-height:29.1px;background:#d4ebf8">17</div>
<div class="c n" style="left:454.8px;top:584.5px;width:40.4px;height:23.7px;line-height:29.1px;background:#d4ebf8">20</div>
<div class="c n" style="left:495.2px;top:584.5px;width:40.0px;height:23.7px;line-height:29.1px;background:#d4ebf8">70</div>
<div class="c n" style="left:535.2px;top:584.5px;width:40.2px;height:23.7px;line-height:29.1px;background:#d4ebf8">205</div>
<div class="c n" style="left:575.4px;top:584.5px;width:41.2px;height:23.7px;line-height:29.1px;background:#d4ebf8">227</div>
<div class="c l v" style="left:52.5px;top:608.2px;width:80.5px;height:24.3px;line-height:28.1px;background:#fff">LV 32 A</div>
<div class="c n" style="left:133.0px;top:608.2px;width:483.6px;height:24.3px;line-height:29.7px;background:#fff"></div>
<div class="c l" style="left:52.5px;top:632.5px;width:80.5px;height:24.5px;line-height:29.9px;background:#d4ebf8">2P+E</div>
<div class="c l" style="left:52.5px;top:657.0px;width:80.5px;height:23.3px;line-height:28.7px;background:#d4ebf8">3P+E</div>
<div class="c n" style="left:133.0px;top:632.5px;width:40.0px;height:47.8px;line-height:53.2px;background:#d4ebf8">150</div>
<div class="c n" style="left:173.0px;top:632.5px;width:40.3px;height:47.8px;line-height:53.2px;background:#d4ebf8">113</div>
<div class="c n" style="left:213.3px;top:632.5px;width:40.3px;height:47.8px;line-height:53.2px;background:#d4ebf8">171</div>
<div class="c n" style="left:253.6px;top:632.5px;width:40.1px;height:47.8px;line-height:53.2px;background:#d4ebf8">155</div>
<div class="c n" style="left:293.7px;top:632.5px;width:40.3px;height:47.8px;line-height:53.2px;background:#d4ebf8">156</div>
<div class="c n" style="left:334.0px;top:632.5px;width:40.4px;height:47.8px;line-height:53.2px;background:#d4ebf8">170</div>
<div class="c n" style="left:374.4px;top:632.5px;width:40.1px;height:47.8px;line-height:53.2px;background:#d4ebf8">28</div>
<div class="c n" style="left:414.5px;top:632.5px;width:40.3px;height:47.8px;line-height:53.2px;background:#d4ebf8">22</div>
<div class="c n" style="left:454.8px;top:632.5px;width:40.4px;height:47.8px;line-height:53.2px;background:#d4ebf8">26</div>
<div class="c n" style="left:495.2px;top:632.5px;width:40.0px;height:47.8px;line-height:53.2px;background:#d4ebf8">90</div>
<div class="c n" style="left:535.2px;top:632.5px;width:40.2px;height:47.8px;line-height:53.2px;background:#d4ebf8">224</div>
<div class="c n" style="left:575.4px;top:632.5px;width:41.2px;height:47.8px;line-height:53.2px;background:#d4ebf8">250</div>
<div class="c l" style="left:52.5px;top:680.3px;width:80.5px;height:23.7px;line-height:29.1px;background:#d4ebf8">4P+E</div>
<div class="c n" style="left:133.0px;top:680.3px;width:40.0px;height:23.7px;line-height:29.1px;background:#d4ebf8">150</div>
<div class="c n" style="left:173.0px;top:680.3px;width:40.3px;height:23.7px;line-height:29.1px;background:#d4ebf8">113</div>
<div class="c n" style="left:213.3px;top:680.3px;width:40.3px;height:23.7px;line-height:29.1px;background:#d4ebf8">171</div>
<div class="c n" style="left:253.6px;top:680.3px;width:40.1px;height:23.7px;line-height:29.1px;background:#d4ebf8">161</div>
<div class="c n" style="left:293.7px;top:680.3px;width:40.3px;height:23.7px;line-height:29.1px;background:#d4ebf8">156</div>
<div class="c n" style="left:334.0px;top:680.3px;width:40.4px;height:23.7px;line-height:29.1px;background:#d4ebf8">175</div>
<div class="c n" style="left:374.4px;top:680.3px;width:40.1px;height:23.7px;line-height:29.1px;background:#d4ebf8">28</div>
<div class="c n" style="left:414.5px;top:680.3px;width:40.3px;height:23.7px;line-height:29.1px;background:#d4ebf8">22</div>
<div class="c n" style="left:454.8px;top:680.3px;width:40.4px;height:23.7px;line-height:29.1px;background:#d4ebf8">26</div>
<div class="c n" style="left:495.2px;top:680.3px;width:40.0px;height:23.7px;line-height:29.1px;background:#d4ebf8">90</div>
<div class="c n" style="left:535.2px;top:680.3px;width:40.2px;height:23.7px;line-height:29.1px;background:#d4ebf8">231</div>
<div class="c n" style="left:575.4px;top:680.3px;width:41.2px;height:23.7px;line-height:29.1px;background:#d4ebf8">260</div>
<svg id="grid" width="640" height="728" viewBox="0 0 640 728" stroke="#3b3233" stroke-width="1.3" style="position:absolute;left:0;top:0"><line x1="51.85" y1="488.6" x2="617.25" y2="488.6"/>
<line x1="51.85" y1="512.6" x2="617.25" y2="512.6"/>
<line x1="51.85" y1="537" x2="617.25" y2="537"/>
<line x1="51.85" y1="560.4" x2="617.25" y2="560.4"/>
<line x1="51.85" y1="584.5" x2="617.25" y2="584.5"/>
<line x1="51.85" y1="608.2" x2="617.25" y2="608.2"/>
<line x1="51.85" y1="632.5" x2="617.25" y2="632.5"/>
<line x1="51.85" y1="657" x2="133.65" y2="657"/>
<line x1="51.85" y1="680.3" x2="617.25" y2="680.3"/>
<line x1="51.85" y1="704" x2="617.25" y2="704"/>
<line x1="52.5" y1="488.6" x2="52.5" y2="704"/>
<line x1="133" y1="488.6" x2="133" y2="704"/>
<line x1="173" y1="488.6" x2="173" y2="512.6"/>
<line x1="173" y1="537" x2="173" y2="608.2"/>
<line x1="173" y1="632.5" x2="173" y2="704"/>
<line x1="213.3" y1="488.6" x2="213.3" y2="512.6"/>
<line x1="213.3" y1="537" x2="213.3" y2="608.2"/>
<line x1="213.3" y1="632.5" x2="213.3" y2="704"/>
<line x1="253.6" y1="488.6" x2="253.6" y2="512.6"/>
<line x1="253.6" y1="537" x2="253.6" y2="608.2"/>
<line x1="253.6" y1="632.5" x2="253.6" y2="704"/>
<line x1="293.7" y1="488.6" x2="293.7" y2="512.6"/>
<line x1="293.7" y1="537" x2="293.7" y2="608.2"/>
<line x1="293.7" y1="632.5" x2="293.7" y2="704"/>
<line x1="334" y1="488.6" x2="334" y2="512.6"/>
<line x1="334" y1="537" x2="334" y2="608.2"/>
<line x1="334" y1="632.5" x2="334" y2="704"/>
<line x1="374.4" y1="488.6" x2="374.4" y2="512.6"/>
<line x1="374.4" y1="537" x2="374.4" y2="608.2"/>
<line x1="374.4" y1="632.5" x2="374.4" y2="704"/>
<line x1="414.5" y1="488.6" x2="414.5" y2="512.6"/>
<line x1="414.5" y1="537" x2="414.5" y2="608.2"/>
<line x1="414.5" y1="632.5" x2="414.5" y2="704"/>
<line x1="454.8" y1="488.6" x2="454.8" y2="512.6"/>
<line x1="454.8" y1="537" x2="454.8" y2="608.2"/>
<line x1="454.8" y1="632.5" x2="454.8" y2="704"/>
<line x1="495.2" y1="488.6" x2="495.2" y2="512.6"/>
<line x1="495.2" y1="537" x2="495.2" y2="608.2"/>
<line x1="495.2" y1="632.5" x2="495.2" y2="704"/>
<line x1="535.2" y1="488.6" x2="535.2" y2="512.6"/>
<line x1="535.2" y1="537" x2="535.2" y2="608.2"/>
<line x1="535.2" y1="632.5" x2="535.2" y2="704"/>
<line x1="575.4" y1="488.6" x2="575.4" y2="512.6"/>
<line x1="575.4" y1="537" x2="575.4" y2="608.2"/>
<line x1="575.4" y1="632.5" x2="575.4" y2="704"/>
<line x1="616.6" y1="488.6" x2="616.6" y2="704"/></svg>
<div id="tb-left"></div>
</div>
</body></html>
